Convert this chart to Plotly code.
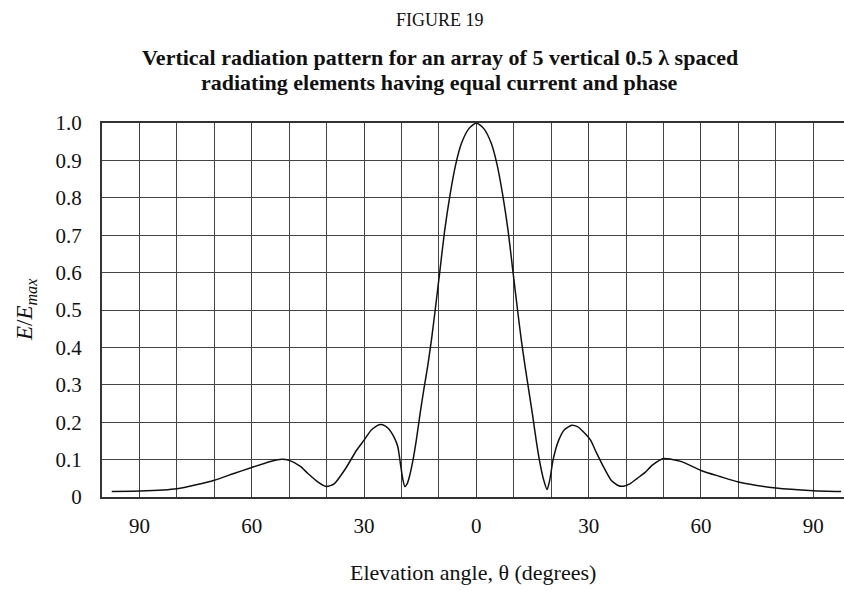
import plotly.graph_objects as go

# Elevation angle (degrees, negative = left half of chart) and relative field strength
angle_deg = [-97.4, -90, -80, -70, -65, -60, -55, -52, -50, -47, -45, -42, -40, -38, -35, -32, -30,
             -28, -26, -25, -23.5, -22, -21, -20.3, -19.6, -19.1, -18.5, -18, -17, -16, -15,
             -14, -13, -12, -11, -9.8, -8.5, -7, -5.5, -4, -2, 0,
             2, 4, 5.5, 7, 8.5, 9.8, 11, 12, 13, 14, 15, 16, 17, 18, 18.9,
             19.6, 20.5, 22.0, 23.5, 25.5, 27, 28.5, 30.5, 32, 34, 36, 38, 39.3, 41, 43, 45,
             47, 50, 52, 55, 60, 65, 70, 80, 90, 97.4]
field_ratio = [0.015, 0.016, 0.022, 0.045, 0.062, 0.079, 0.095, 0.101, 0.098, 0.082, 0.063, 0.038, 0.028, 0.035, 0.075, 0.125, 0.152,
               0.180, 0.193, 0.193, 0.183, 0.160, 0.135, 0.090, 0.045, 0.028, 0.035, 0.050, 0.095, 0.155, 0.225,
               0.290, 0.350, 0.420, 0.500, 0.600, 0.710, 0.810, 0.890, 0.945, 0.985, 1.000,
               0.985, 0.945, 0.890, 0.810, 0.710, 0.600, 0.500, 0.420, 0.350, 0.285, 0.220, 0.150, 0.090, 0.045, 0.020,
               0.045, 0.100, 0.152, 0.180, 0.192, 0.188, 0.175, 0.152, 0.120, 0.080, 0.045, 0.030, 0.029, 0.035, 0.050, 0.065,
               0.085, 0.103, 0.101, 0.094, 0.071, 0.055, 0.040, 0.024, 0.017, 0.015]

x_tick_vals = [-90, -60, -30, 0, 30, 60, 90]
x_tick_text = ["90", "60", "30", "0", "30", "60", "90"]
x_grid_vals = [-100, -80, -70, -50, -40, -20, -10, 10, 20, 40, 50, 70, 80, 100]
y_tick_vals = [0, 0.1, 0.2, 0.3, 0.4, 0.5, 0.6, 0.7, 0.8, 0.9, 1.0]
y_tick_text = ["0", "0.1", "0.2", "0.3", "0.4", "0.5", "0.6", "0.7", "0.8", "0.9", "1.0"]

FONT = "Liberation Serif, Times New Roman, serif"

fig = go.Figure()
fig.add_trace(go.Scatter(x=angle_deg, y=field_ratio, mode="lines",
                         line=dict(color="#111", width=1.5, shape="spline", smoothing=0.6),
                         hoverinfo="skip", showlegend=False))

fig.update_layout(
    width=844, height=591,
    margin=dict(l=102, r=0, t=123, b=94),
    paper_bgcolor="white", plot_bgcolor="white",
    font=dict(family=FONT, size=21, color="#111"),
    xaxis=dict(range=[-100, 98.2], tickmode="array", tickvals=x_tick_vals, ticktext=x_tick_text,
               showgrid=True, gridcolor="#444", gridwidth=1, zeroline=False,
               minor=dict(tickvals=x_grid_vals, showgrid=True, gridcolor="#444", gridwidth=1, ticks=""),
               showline=True, linecolor="#333", linewidth=2, mirror=True,
               ticks="outside", ticklen=9, tickcolor="rgba(0,0,0,0)",
               tickfont=dict(family=FONT, size=21, color="#111"), fixedrange=True),
    yaxis=dict(range=[0, 1.0], tickmode="array", tickvals=y_tick_vals, ticktext=y_tick_text,
               showgrid=True, gridcolor="#444", gridwidth=1, zeroline=False,
               showline=True, linecolor="#333", linewidth=2, mirror=False,
               ticks="outside", ticklen=14, tickcolor="rgba(0,0,0,0)",
               tickfont=dict(family=FONT, size=21, color="#111"), fixedrange=True),
    annotations=[
        dict(text="FIGURE 19", xref="paper", yref="paper", x=0.4555, y=1.275,
             xanchor="center", yanchor="middle", showarrow=False,
             font=dict(family=FONT, size=18, color="#111")),
        dict(text="<b>Vertical radiation pattern for an array of 5 vertical 0.5 λ spaced</b>",
             xref="paper", yref="paper", x=0.4555, y=1.1738,
             xanchor="center", yanchor="middle", showarrow=False,
             font=dict(family=FONT, size=22, color="#111")),
        dict(text="<b>radiating elements having equal current and phase</b>",
             xref="paper", yref="paper", x=0.4555, y=1.1096,
             xanchor="center", yanchor="middle", showarrow=False,
             font=dict(family=FONT, size=22, color="#111")),
        dict(text="Elevation angle, θ (degrees)", xref="paper", yref="paper", x=0.5, y=-0.203,
             xanchor="center", yanchor="middle", showarrow=False,
             font=dict(family=FONT, size=22, color="#111")),
        dict(text="<i>E</i>/<i>E<sub>max</sub></i>", xref="paper", yref="paper", x=-0.1024, y=0.5,
             xanchor="center", yanchor="middle", showarrow=False, textangle=-90,
             font=dict(family=FONT, size=23, color="#111")),
    ],
)

fig.write_html("out.html")
